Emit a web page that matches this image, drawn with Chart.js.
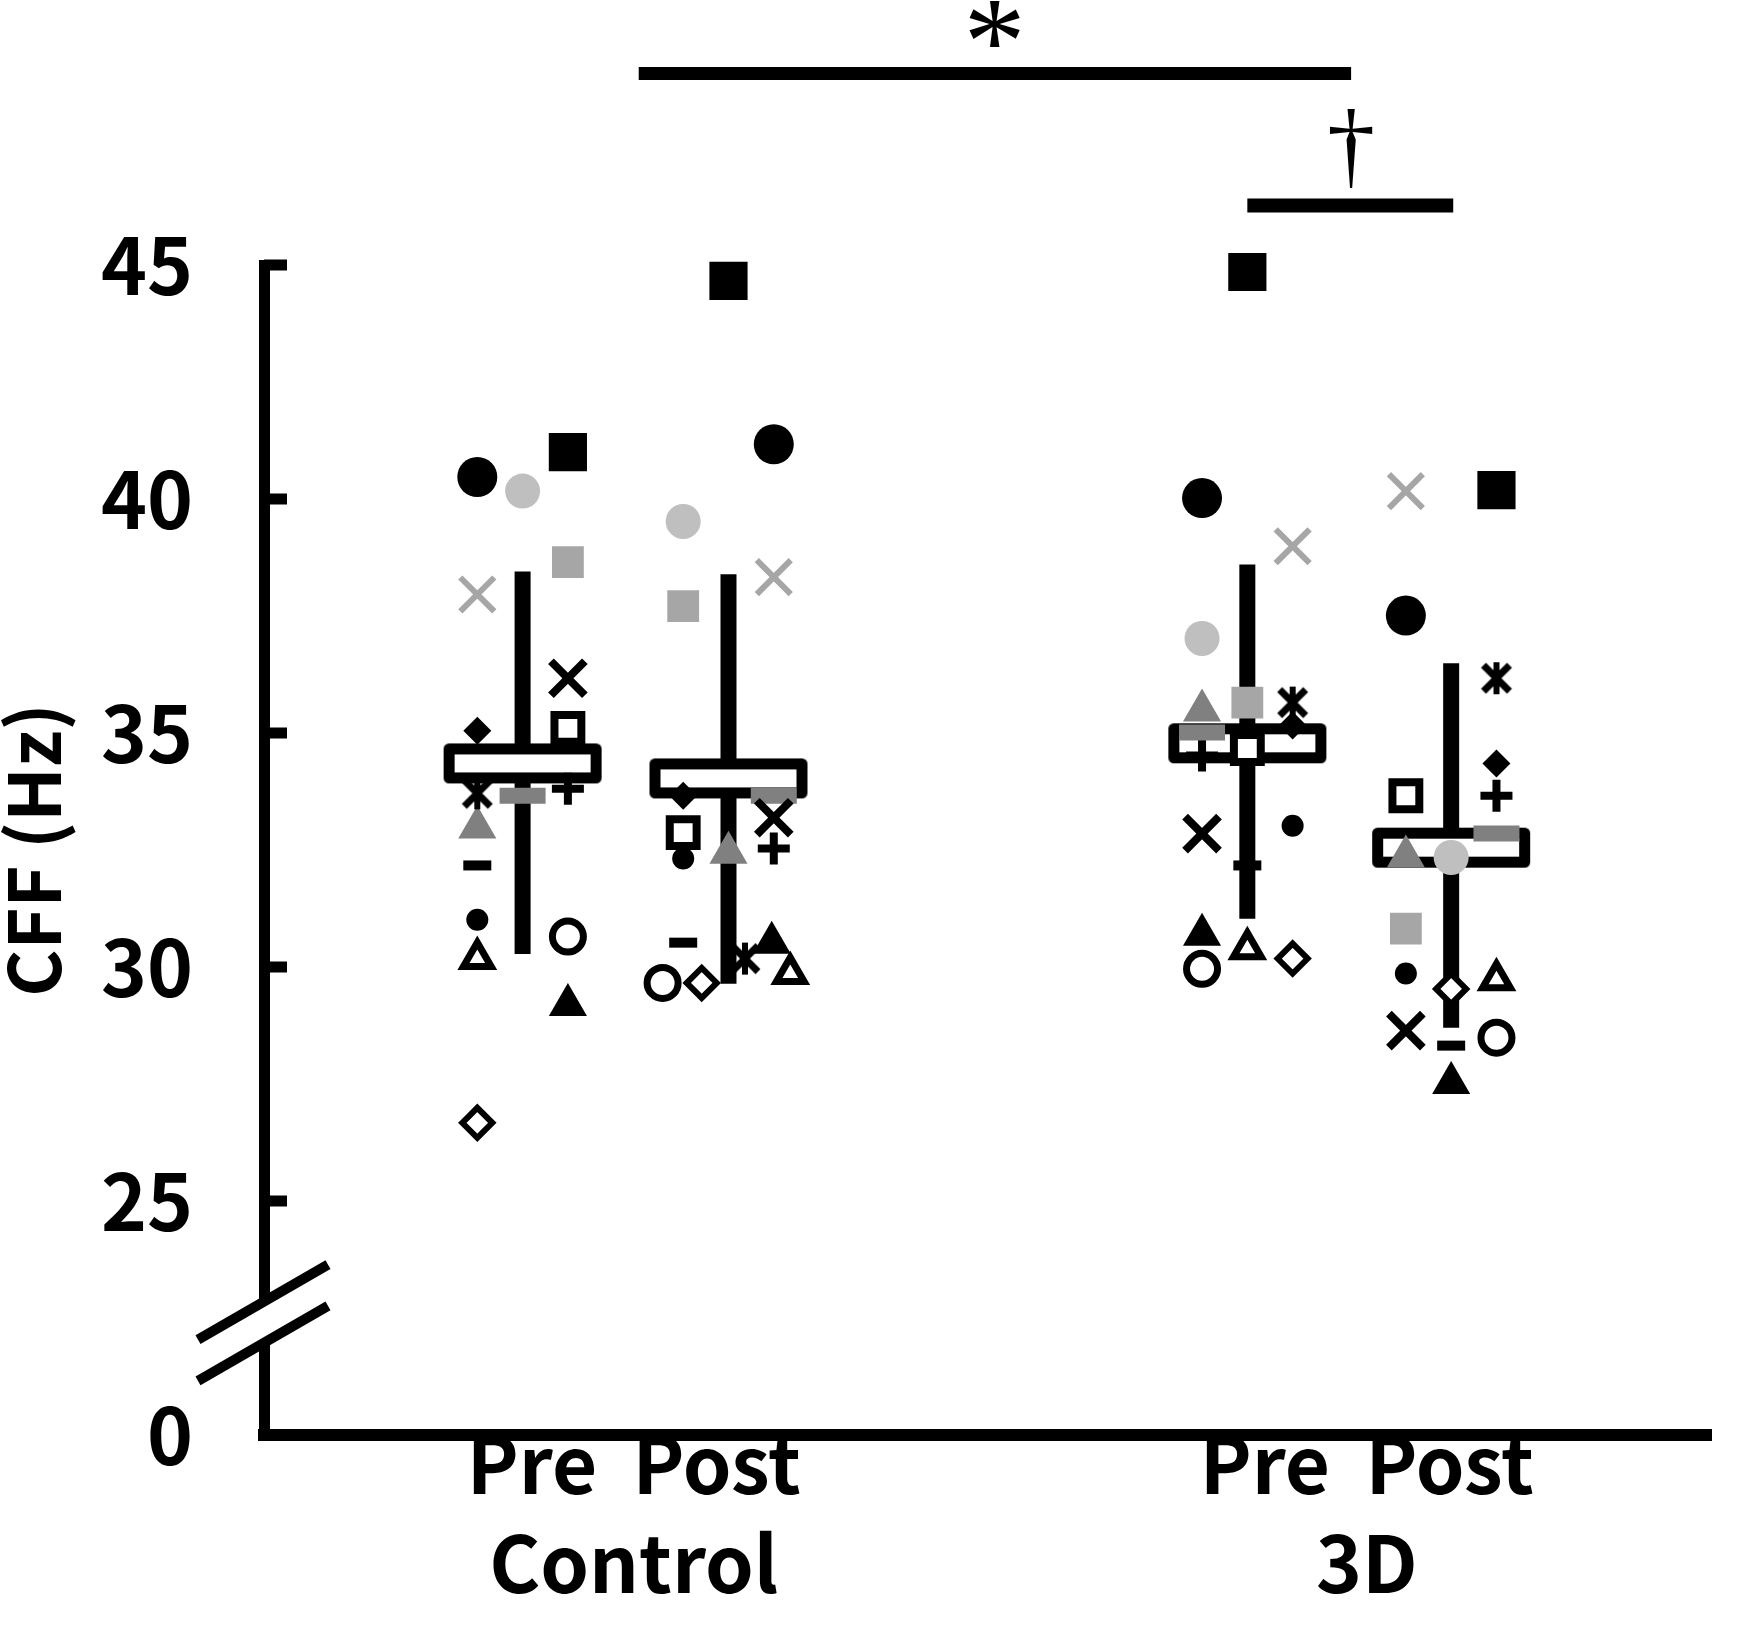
<!DOCTYPE html>
<html lang="ja">
<head>
  <meta charset="UTF-8" />
  <title>CFF Pre / Post</title>
  <script src="https://cdn.jsdelivr.net/npm/chart.js@4.4.0/dist/chart.umd.min.js"></script>
  <style>
    html, body {
      margin: 0;
      padding: 0;
      background: #fff;
    }
    #wrap {
      width: 1750px;
      height: 1626px;
    }
  </style>
</head>
<body>
  <div id="wrap"><canvas id="cffChart" width="1750" height="1626"></canvas></div>

  <script>
    // conditions, placed on a linear x axis
    const conditionNames = ['Control Pre', 'Control Post', '3D Pre', '3D Post'];
    const conditionX = [1, 2, 4.52, 5.51];

    // group labels under the axis
    const groupTickX = [1.54, 5.1];
    const groupLabels = [['Pre  Post', 'Control'], ['Pre  Post', '3D']];

    // broken y axis: the bottom value is labelled 0
    const yTickValues = [20, 25, 30, 35, 40, 45];
    const yTickLabels = ['0', '25', '30', '35', '40', '45'];
    const breakValues = [22.85, 21.97];

    // one marker per participant
    const markers = ['blackCircle', 'greyCircle', 'blackSquare', 'greySquare', 'greyCross', 'blackCross',
      'blackDiamond', 'blackStar', 'greyTriangle', 'blackDash', 'greyDash', 'blackPlus',
      'smallCircle', 'openTriangle', 'openCircle', 'blackTriangle', 'openDiamond', 'openSquare'];

    // CFF (Hz), same order as markers
    const controlPre  = [40.47, 40.17, 41.00, 38.65, 37.96, 36.17, 35.05, 33.71, 32.98, 32.17, 33.66, 33.81, 31.01, 30.18, 30.65, 29.19, 26.67, 35.10];
    const controlPost = [41.17, 39.52, 44.66, 37.71, 38.33, 33.19, 33.66, 30.18, 32.44, 30.52, 33.66, 32.53, 32.32, 29.86, 29.66, 30.52, 29.66, 32.87];
    const threeDPre   = [40.02, 37.02, 44.85, 35.65, 38.99, 32.85, 35.16, 35.65, 35.48, 32.17, 35.01, 34.52, 33.02, 30.39, 29.96, 30.69, 30.18, 34.67];
    const threeDPost  = [37.51, 32.34, 40.19, 30.82, 40.17, 28.64, 34.35, 36.17, 32.36, 28.32, 32.85, 33.66, 29.86, 29.73, 28.49, 27.52, 29.53, 33.66];

    // sideways spread of the points around each condition (x units)
    const controlPreJitter  = [-0.22, 0, 0.22, 0.22, -0.22, 0.22, -0.22, -0.22, -0.22, -0.22, 0, 0.22, -0.22, -0.22, 0.22, 0.22, -0.22, 0.22];
    const controlPostJitter = [0.22, -0.22, 0, -0.22, 0.22, 0.22, -0.22, 0.08, 0, -0.22, 0.22, 0.22, -0.22, 0.30, -0.32, 0.21, -0.13, -0.22];
    const threeDPreJitter   = [-0.22, -0.22, 0, 0, 0.22, -0.22, 0.22, 0.22, -0.22, 0, -0.22, -0.22, 0.22, 0, -0.22, -0.22, 0.22, 0];
    const threeDPostJitter  = [-0.22, 0, 0.22, -0.22, -0.22, -0.22, 0.22, 0.22, -0.22, 0, 0.22, 0.22, -0.22, 0.22, 0.22, 0, 0, -0.22];

    // mean and mean +/- SD
    const meanCFF = [34.35, 34.03, 34.78, 32.55];
    const sdHigh  = [38.45, 38.39, 38.60, 36.49];
    const sdLow   = [30.28, 29.64, 31.03, 28.70];

    // significance bars and their symbols
    const starBarX = [1.564, 5.024];
    const starBarY = 49.09;
    const starTextY = 50.15;
    const daggerBarX = [4.52, 5.52];
    const daggerBarY = 46.27;
    const daggerTextX = 5.024;
    const daggerTextY = 47.48;

    const conditionValues = [controlPre, controlPost, threeDPre, threeDPost];
    const conditionJitter = [controlPreJitter, controlPostJitter, threeDPreJitter, threeDPostJitter];

    Chart.defaults.font.family = "'Noto Sans CJK JP', 'Noto Sans', sans-serif";
    Chart.defaults.color = '#000';

    // star marker: an x with a vertical stroke
    function makeStar() {
      const c = document.createElement('canvas');
      c.width = 36;
      c.height = 36;
      const g = c.getContext('2d');
      g.strokeStyle = '#000';
      g.lineWidth = 7;
      g.beginPath();
      g.moveTo(5, 5); g.lineTo(31, 31);
      g.moveTo(31, 5); g.lineTo(5, 31);
      g.stroke();
      g.lineWidth = 6;
      g.beginPath();
      g.moveTo(18, 2); g.lineTo(18, 34);
      g.stroke();
      return c;
    }

    // mean marker: white bar with a thick black outline
    function makeMeanBox() {
      const c = document.createElement('canvas');
      c.width = 160;
      c.height = 42;
      const g = c.getContext('2d');
      g.fillStyle = '#fff';
      g.strokeStyle = '#000';
      g.lineWidth = 11;
      g.lineJoin = 'round';
      g.beginPath();
      g.rect(6.5, 6.5, 147, 29);
      g.fill();
      g.stroke();
      return c;
    }

    const starImage = makeStar();
    const meanBoxImage = makeMeanBox();

    const markerStyle = {
      blackCircle:   { pointStyle: 'circle',   radius: 20,   fill: '#000', line: '#000', width: 0 },
      greyCircle:    { pointStyle: 'circle',   radius: 17.5, fill: '#BFBFBF', line: '#BFBFBF', width: 0 },
      blackSquare:   { pointStyle: 'rect',     radius: 27,   fill: '#000', line: '#000', width: 0 },
      greySquare:    { pointStyle: 'rect',     radius: 22.5, fill: '#A6A6A6', line: '#A6A6A6', width: 0 },
      greyCross:     { pointStyle: 'crossRot', radius: 24,   fill: '#A6A6A6', line: '#A6A6A6', width: 6 },
      blackCross:    { pointStyle: 'crossRot', radius: 24,   fill: '#000', line: '#000', width: 8 },
      blackDiamond:  { pointStyle: 'rectRot',  radius: 14,   fill: '#000', line: '#000', width: 0 },
      blackStar:     { pointStyle: starImage,  radius: 16,   fill: '#000', line: '#000', width: 0 },
      greyTriangle:  { pointStyle: 'triangle', radius: 22,   fill: '#808080', line: '#808080', width: 0 },
      blackDash:     { pointStyle: 'line',     radius: 14,   fill: '#000', line: '#000', width: 10 },
      greyDash:      { pointStyle: 'line',     radius: 23,   fill: '#808080', line: '#808080', width: 16 },
      blackPlus:     { pointStyle: 'cross',    radius: 16,   fill: '#000', line: '#000', width: 8 },
      smallCircle:   { pointStyle: 'circle',   radius: 11,   fill: '#000', line: '#000', width: 0 },
      openTriangle:  { pointStyle: 'triangle', radius: 16,   fill: '#fff', line: '#000', width: 7 },
      openCircle:    { pointStyle: 'circle',   radius: 15.5, fill: '#fff', line: '#000', width: 7 },
      blackTriangle: { pointStyle: 'triangle', radius: 22,   fill: '#000', line: '#000', width: 0 },
      openDiamond:   { pointStyle: 'rectRot',  radius: 15,   fill: '#fff', line: '#000', width: 6 },
      openSquare:    { pointStyle: 'rect',     radius: 19,   fill: '#fff', line: '#000', width: 8 }
    };

    const markerSets = markers.map((name, i) => {
      const s = markerStyle[name];
      return {
        label: name,
        data: conditionX.map((cx, k) => ({ x: cx + conditionJitter[k][i], y: conditionValues[k][i] })),
        pointStyle: s.pointStyle,
        pointRadius: s.radius,
        pointBackgroundColor: s.fill,
        pointBorderColor: s.line,
        pointBorderWidth: s.width,
        order: 1,
        clip: false
      };
    });

    const meanSet = {
      label: 'mean',
      data: conditionX.map((cx, k) => ({ x: cx, y: meanCFF[k] })),
      pointStyle: meanBoxImage,
      pointRadius: 20,
      order: 2,
      clip: false
    };

    const errorSets = conditionX.map((cx, k) => ({
      type: 'line',
      label: 'SD ' + conditionNames[k],
      data: [{ x: cx, y: sdLow[k] }, { x: cx, y: sdHigh[k] }],
      borderColor: '#000',
      borderWidth: 16,
      pointRadius: 0,
      order: 3,
      clip: false
    }));

    const barSets = [
      { x: starBarX, y: starBarY, w: 13 },
      { x: daggerBarX, y: daggerBarY, w: 14 }
    ].map(b => ({
      type: 'line',
      label: 'sig',
      data: [{ x: b.x[0], y: b.y }, { x: b.x[1], y: b.y }],
      borderColor: '#000',
      borderWidth: b.w,
      pointRadius: 0,
      order: 4,
      clip: false
    }));

    // centre a glyph on (cx, cy) with a given ink height
    function drawGlyph(ctx, text, family, inkHeight, cx, cy) {
      ctx.font = '100px ' + family;
      let m = ctx.measureText(text);
      const h100 = m.actualBoundingBoxAscent + m.actualBoundingBoxDescent;
      ctx.font = (100 * inkHeight / h100).toFixed(1) + 'px ' + family;
      m = ctx.measureText(text);
      const w = m.actualBoundingBoxLeft + m.actualBoundingBoxRight;
      const h = m.actualBoundingBoxAscent + m.actualBoundingBoxDescent;
      ctx.textAlign = 'left';
      ctx.textBaseline = 'alphabetic';
      ctx.fillText(text, cx - w / 2 + m.actualBoundingBoxLeft, cy - h / 2 + m.actualBoundingBoxAscent);
    }

    const decorations = {
      id: 'decorations',
      afterDraw(chart) {
        const { ctx, chartArea, scales: { x, y } } = chart;
        const axisX = chartArea.left;
        ctx.save();
        ctx.fillStyle = '#000';
        ctx.strokeStyle = '#000';

        // inward tick marks
        ctx.lineWidth = 11;
        yTickValues.slice(1).forEach(v => {
          const py = y.getPixelForValue(v);
          ctx.beginPath();
          ctx.moveTo(axisX, py);
          ctx.lineTo(axisX + 23, py);
          ctx.stroke();
        });

        // square corner where the axes meet
        ctx.fillRect(axisX - 5.5, chartArea.bottom - 6, 11, 12);

        // axis break
        const b1 = y.getPixelForValue(breakValues[0]);
        const b2 = y.getPixelForValue(breakValues[1]);
        ctx.fillStyle = '#fff';
        ctx.fillRect(axisX - 8, b1, 16, b2 - b1);
        ctx.lineWidth = 10;
        [b1, b2].forEach(py => {
          ctx.beginPath();
          ctx.moveTo(axisX - 66, py + 38);
          ctx.lineTo(axisX + 64, py - 37);
          ctx.stroke();
        });

        // significance symbols
        ctx.fillStyle = '#000';
        drawGlyph(ctx, '*', "'Liberation Serif', serif", 46,
          x.getPixelForValue((starBarX[0] + starBarX[1]) / 2), y.getPixelForValue(starTextY));
        drawGlyph(ctx, '\u2020', "'Liberation Serif', serif", 78,
          x.getPixelForValue(daggerTextX), y.getPixelForValue(daggerTextY));
        ctx.restore();
      }
    };

    new Chart(document.getElementById('cffChart'), {
      type: 'scatter',
      data: {
        datasets: [...markerSets, meanSet, ...errorSets, ...barSets]
      },
      options: {
        responsive: false,
        animation: false,
        devicePixelRatio: 1,
        events: [],
        layout: {
          padding: { top: 265, right: 3, left: 0, bottom: 0 }
        },
        plugins: {
          legend: { display: false },
          tooltip: { enabled: false }
        },
        scales: {
          x: {
            type: 'linear',
            min: -0.256,
            max: 6.772,
            grid: { display: false, drawTicks: false },
            border: { display: true, width: 12, color: '#000' },
            afterBuildTicks: s => { s.ticks = groupTickX.map(v => ({ value: v })); },
            afterFit: s => { s.height = 191; },
            ticks: {
              autoSkip: false,
              maxRotation: 0,
              padding: -21,
              color: '#000',
              font: { size: 78, weight: 'bold', lineHeight: 1.28 },
              callback: (v, i) => groupLabels[i]
            }
          },
          y: {
            type: 'linear',
            min: 20,
            max: 45,
            grid: { display: false, drawTicks: false },
            border: { display: true, width: 11, color: '#000' },
            afterBuildTicks: s => { s.ticks = yTickValues.map(v => ({ value: v })); },
            afterFit: s => { s.width = 264; },
            ticks: {
              padding: 71,
              color: '#000',
              font: { size: 78, weight: 'bold' },
              callback: (v, i) => yTickLabels[i]
            },
            title: {
              display: true,
              text: 'CFF (Hz)',
              color: '#000',
              font: { size: 72, weight: 'bold', lineHeight: 1 },
              padding: { top: -2, bottom: 0 }
            }
          }
        }
      },
      plugins: [decorations]
    });
  </script>
</body>
</html>
